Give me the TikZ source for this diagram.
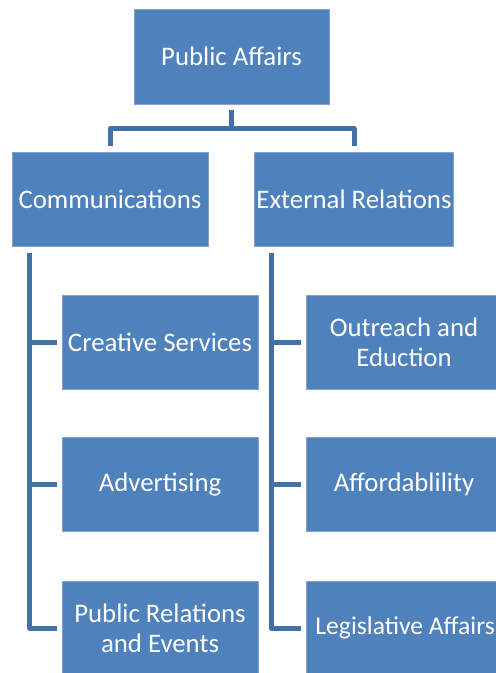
\documentclass[tikz,border=0pt]{standalone}
\usepackage{fontspec}
\setmainfont{Carlito}
\definecolor{boxfill}{RGB}{79,129,189}
\definecolor{boxedge}{RGB}{130,163,210}
\definecolor{linecol}{RGB}{68,112,166}
\begin{document}
\begin{tikzpicture}[x=1pt,y=-1pt,
  orgbox/.style={rectangle, fill=boxfill, draw=boxedge, line width=0.8pt,
    minimum width=196pt, minimum height=94pt, inner sep=2pt, align=center,
    text=white, font=\fontsize{26.8}{30}\selectfont},
  conn/.style={draw=linecol, line width=5pt, line join=round, line cap=butt}]
\useasboundingbox (0,0) rectangle (496,673);
\begin{scope}
\clip (0,0) rectangle (496,673);
\node[orgbox, minimum width=195pt, minimum height=95pt] (pa) at (231.5,56.5) {Public Affairs};
\node[orgbox] (comm) at (110,199) {Communications};
\node[orgbox] (ext) at (354,199) {External Relations};
\node[orgbox] (c1) at (160,342) {Creative Services};
\node[orgbox] (c2) at (160,484.5) {Advertising};
\node[orgbox] (c3) at (160,628) {Public Relations\\and Events};
\node[orgbox] (e1) at (404,342) {Outreach and\\Eduction};
\node[orgbox] (e2) at (404,484.5) {Affordablility};
\node[orgbox] (e3) at (404,628) {};
\node[text=white, font=\fontsize{25.6}{30}\selectfont, anchor=east, inner sep=0pt] (e3t) at (495,628) {Legislative Affairs};
\end{scope}
% top connectors
\coordinate (pabar) at ([yshift=-24pt]pa.south);
\draw[conn] ([yshift=-6pt]pa.south) -- (pabar) -| ([yshift=6pt]comm.north);
\draw[conn] (pabar) -| ([yshift=6pt]ext.north);
% left tree
\coordinate (lx) at ([shift={(18,7)}]comm.south west);
\draw[conn] (lx) |- ([xshift=-5pt]c3.west);
\draw[conn] (c1.west -| lx) -- ([xshift=-5pt]c1.west);
\draw[conn] (c2.west -| lx) -- ([xshift=-5pt]c2.west);
% right tree
\coordinate (rx) at ([shift={(17,7)}]ext.south west);
\draw[conn] (rx) |- ([xshift=-5pt]e3.west);
\draw[conn] (e1.west -| rx) -- ([xshift=-5pt]e1.west);
\draw[conn] (e2.west -| rx) -- ([xshift=-5pt]e2.west);
\end{tikzpicture}
\end{document}
